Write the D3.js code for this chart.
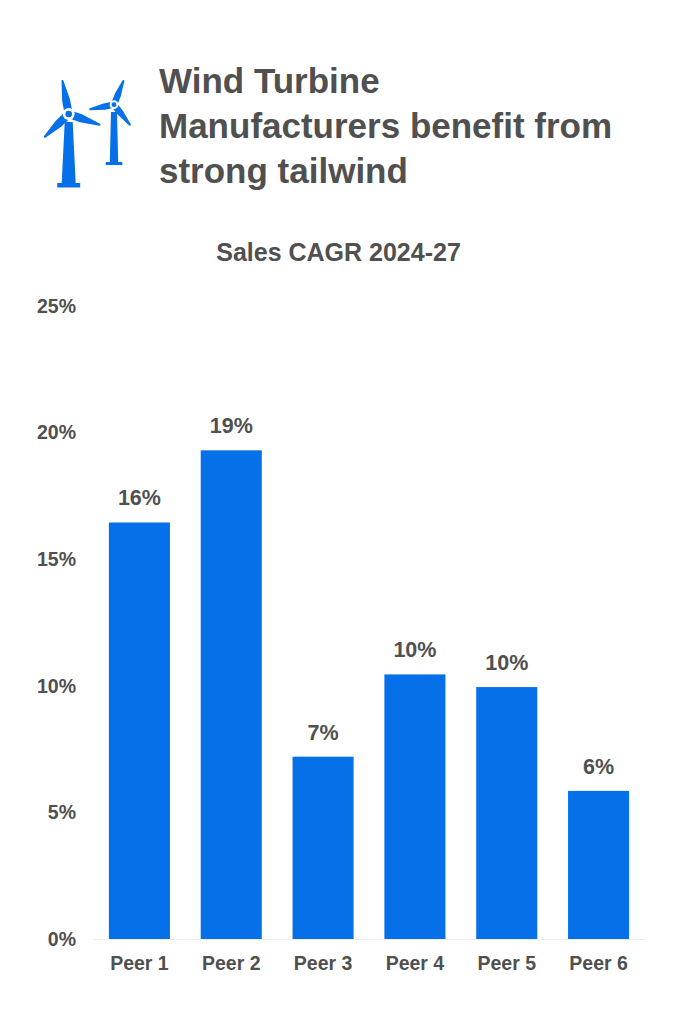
<!DOCTYPE html>
<html>
<head>
<meta charset="utf-8">
<script src="https://d3js.org/d3.v7.min.js"></script>
<style>
  html, body { margin: 0; padding: 0; background: #fff; }
  text { font-family: "Liberation Sans", Arial, sans-serif; font-weight: bold; fill: #505050; }
</style>
</head>
<body>
<div id="graph"></div>
<script>
const titleLines = ['Wind Turbine', 'Manufacturers benefit from', 'strong tailwind'];
const chartTitle = 'Sales CAGR 2024-27';
const peers = ['Peer 1', 'Peer 2', 'Peer 3', 'Peer 4', 'Peer 5', 'Peer 6'];
const cagr = [16.45, 19.3, 7.2, 10.45, 9.95, 5.85];
const cagrLabels = ['16%', '19%', '7%', '10%', '10%', '6%'];
const yTicks = [0, 5, 10, 15, 20, 25];

const blue = '#0670E8';
const svg = d3.select('#graph').append('svg')
  .attr('width', 677).attr('height', 1024)
  .style('display', 'block');

// Heading
svg.append('g').selectAll('text')
  .data(titleLines)
  .enter().append('text')
  .attr('x', 159)
  .attr('y', (d, i) => 93 + i * 45)
  .style('font-size', '35px')
  .text((d) => d);

svg.append('text')
  .attr('x', 338.5).attr('y', 261)
  .attr('text-anchor', 'middle')
  .style('font-size', '25px')
  .text(chartTitle);

// Turbine icon
const drawTurbine = (t) => {
  const g = svg.append('g').attr('fill', blue);
  const { hx, hy, tips, towerTop, towerBottom, topHalf, bottomHalf, baseHalf, baseH, ring, dot, bladeW } = t;
  g.append('path').attr('d',
    `M${hx - topHalf},${towerTop} L${hx + topHalf},${towerTop} L${hx + bottomHalf},${towerBottom} L${hx - bottomHalf},${towerBottom} Z`);
  g.append('rect')
    .attr('x', hx - baseHalf).attr('y', towerBottom)
    .attr('width', baseHalf * 2).attr('height', baseH);
  tips.forEach(([tx, ty]) => {
    const dx = tx - hx, dy = ty - hy;
    const len = Math.hypot(dx, dy);
    const ux = dx / len, uy = dy / len, nx = -uy, ny = ux;
    const a = ring * 0.6, b = len * 0.4;
    g.append('path')
      .attr('stroke', blue).attr('stroke-width', 2).attr('stroke-linejoin', 'round')
      .attr('d', `M${hx + ux * a + nx * bladeW},${hy + uy * a + ny * bladeW}
        L${hx + ux * b + nx * bladeW},${hy + uy * b + ny * bladeW}
        L${tx - ux},${ty - uy}
        L${hx + ux * b - nx * bladeW},${hy + uy * b - ny * bladeW}
        L${hx + ux * a - nx * bladeW},${hy + uy * a - ny * bladeW} Z`);
  });
  g.append('circle').attr('cx', hx).attr('cy', hy).attr('r', ring).attr('fill', '#fff');
  g.append('circle').attr('cx', hx).attr('cy', hy).attr('r', dot);
};

drawTurbine({ hx: 68.7, hy: 114, tips: [[62.3, 80], [100.5, 125], [44, 137.5]],
  towerTop: 122, towerBottom: 183, topHalf: 4, bottomHalf: 7, baseHalf: 11.5, baseH: 4.5,
  ring: 6, dot: 3.3, bladeW: 3 });
drawTurbine({ hx: 114, hy: 104.7, tips: [[123.7, 80], [89.3, 109.5], [130.5, 125.5]],
  towerTop: 112, towerBottom: 162, topHalf: 3, bottomHalf: 4.2, baseHalf: 8.3, baseH: 3,
  ring: 4.4, dot: 2.4, bladeW: 2.2 });

// Scales
const x = d3.scaleBand()
  .domain(peers)
  .range([93.5, 644.5])
  .paddingInner(0.335)
  .paddingOuter(0.1675);

const y = d3.scaleLinear()
  .domain([0, 25])
  .range([939, 306]);

// Axes
const xAxis = d3.axisBottom(x).tickSize(0).tickPadding(17.5);
const gx = svg.append('g')
  .attr('transform', 'translate(0, 939)')
  .call(xAxis);
gx.select('.domain').attr('stroke', '#ececec').attr('stroke-width', 1);
gx.selectAll('text').style('font-size', '19.5px').attr('fill', null);

const yAxis = d3.axisLeft(y).tickValues(yTicks).tickFormat((d) => d + '%').tickSize(0).tickPadding(0);
const gy = svg.append('g')
  .attr('transform', 'translate(76, 0)')
  .call(yAxis);
gy.select('.domain').remove();
gy.selectAll('text').style('font-size', '19.5px').attr('fill', null);

// Bars
const data = peers.map((p, i) => ({ peer: p, value: cagr[i], label: cagrLabels[i] }));

svg.selectAll('.bar')
  .data(data)
  .enter().append('rect')
  .attr('class', 'bar')
  .attr('x', (d) => x(d.peer))
  .attr('width', x.bandwidth())
  .attr('y', (d) => y(d.value))
  .attr('height', (d) => y(0) - y(d.value))
  .attr('fill', blue);

svg.selectAll('.bar-label')
  .data(data)
  .enter().append('text')
  .attr('class', 'bar-label')
  .attr('x', (d) => x(d.peer) + x.bandwidth() / 2)
  .attr('y', (d) => y(d.value) - 17)
  .attr('text-anchor', 'middle')
  .style('font-size', '21.5px')
  .text((d) => d.label);
</script>
</body>
</html>
